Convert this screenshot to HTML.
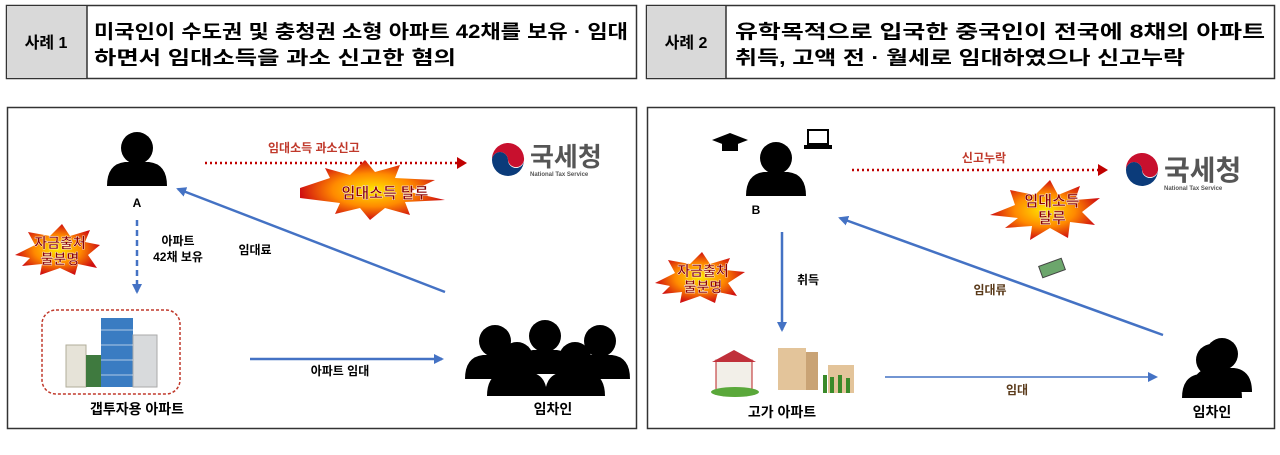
<!DOCTYPE html>
<html><head><meta charset="utf-8"><style>
html,body{margin:0;padding:0;background:#fff;}
svg{display:block}
text{font-family:"Liberation Sans","Noto Sans CJK KR",sans-serif;font-weight:bold}
</style></head><body>
<svg width="1280" height="455" viewBox="0 0 1280 455" xmlns="http://www.w3.org/2000/svg">
<defs>
<marker id="ab" markerWidth="10" markerHeight="10" refX="8" refY="5" orient="auto" markerUnits="userSpaceOnUse"><path d="M0,0 L10,5 L0,10 z" fill="#4472c4"/></marker>
<marker id="ar" markerWidth="10" markerHeight="12" refX="8" refY="6" orient="auto" markerUnits="userSpaceOnUse"><path d="M0,0 L10,6 L0,12 z" fill="#c00000"/></marker>
<radialGradient id="burst" cx="50%" cy="50%" r="50%"><stop offset="0" stop-color="#ffe600"/><stop offset="0.55" stop-color="#ff8a00"/><stop offset="1" stop-color="#d01010"/></radialGradient>
<g id="person"><circle cx="0" cy="-14" r="16" fill="#000"/><path d="M-30,24 Q-30,2 -12,0 L12,0 Q30,2 30,24 Z" fill="#000"/></g>
<g id="nts"><path d="M0,-16 A16,16 0 1,0 16,0 A8,8 0 0,1 0,0 A8,8 0 0,0 -16,0 A16,16 0 0,1 0,-16z" fill="#0b3b7a"/><path d="M-16,0 A16,16 0 0,1 16,-2 A8,8 0 0,1 0,0 A8,8 0 0,0 -16,0z" fill="#c8102e"/></g>
</defs>

<!-- headers -->
<rect x="6.5" y="5.5" width="630" height="73" fill="#fff" stroke="#333" stroke-width="1.5"/>
<rect x="7" y="6" width="80" height="72" fill="#d9d9d9"/>
<line x1="87" y1="5" x2="87" y2="79" stroke="#333" stroke-width="1.5"/>
<text x="46" y="48" font-size="16" text-anchor="middle">사례 1</text>
<text x="94" y="38" font-size="19" textLength="534" lengthAdjust="spacingAndGlyphs">미국인이 수도권 및 충청권 소형 아파트 42채를 보유 · 임대</text>
<text x="94" y="64" font-size="19" textLength="362" lengthAdjust="spacingAndGlyphs">하면서 임대소득을 과소 신고한 혐의</text>

<rect x="646.5" y="5.5" width="628" height="73" fill="#fff" stroke="#333" stroke-width="1.5"/>
<rect x="647" y="6" width="79" height="72" fill="#d9d9d9"/>
<line x1="726" y1="5" x2="726" y2="79" stroke="#333" stroke-width="1.5"/>
<text x="686" y="48" font-size="16" text-anchor="middle">사례 2</text>
<text x="735" y="38" font-size="19" textLength="530" lengthAdjust="spacingAndGlyphs">유학목적으로  입국한  중국인이  전국에  8채의  아파트</text>
<text x="735" y="64" font-size="19" textLength="450" lengthAdjust="spacingAndGlyphs">취득, 고액 전 · 월세로 임대하였으나 신고누락</text>

<!-- panels -->
<rect x="7.5" y="107.5" width="629" height="321" fill="#fff" stroke="#333" stroke-width="1.5"/>
<rect x="647.5" y="107.5" width="627" height="321" fill="#fff" stroke="#333" stroke-width="1.5"/>

<!-- LEFT -->
<use href="#person" x="137" y="162"/>
<text x="137" y="207" font-size="12" text-anchor="middle">A</text>
<line x1="205" y1="163" x2="465" y2="163" stroke="#c00000" stroke-width="2.5" stroke-dasharray="2,3" marker-end="url(#ar)"/>
<text x="268" y="152" font-size="12" fill="#c0392b">임대소득 과소신고</text>
<use href="#nts" x="508" y="160"/>
<text x="530" y="166" font-size="26" fill="#555" font-weight="normal">국세청</text>
<text x="530" y="176" font-size="6" fill="#555">National Tax Service</text>
<polygon points="300,188 330,178 325,168 350,175 365,160 375,172 400,165 395,178 435,180 410,192 445,200 405,202 410,215 385,208 370,220 360,208 335,214 340,203 300,198" fill="url(#burst)"/>
<text x="385" y="198" font-size="15" text-anchor="middle" fill="#8b0000" stroke="#fff" stroke-width="0.4">임대소득 탈루</text>
<line x1="445" y1="292" x2="178" y2="189" stroke="#4472c4" stroke-width="2.5" marker-end="url(#ab)"/>
<text x="255" y="254" font-size="12" text-anchor="middle">임대료</text>
<line x1="137" y1="220" x2="137" y2="292" stroke="#4472c4" stroke-width="2.5" stroke-dasharray="6,4" marker-end="url(#ab)"/>
<text x="178" y="245" font-size="12" text-anchor="middle">아파트</text>
<text x="178" y="261" font-size="12" text-anchor="middle">42채 보유</text>
<polygon points="15,255 35,245 28,232 50,236 62,224 70,236 90,230 85,242 100,245 88,255 97,268 78,264 75,275 60,268 40,275 42,264 22,266 30,258" fill="url(#burst)"/>
<text x="60" y="248" font-size="14" text-anchor="middle" fill="#8b0000" stroke="#fff" stroke-width="0.4">자금출처</text>
<text x="60" y="264" font-size="14" text-anchor="middle" fill="#8b0000" stroke="#fff" stroke-width="0.4">불분명</text>
<rect x="42" y="310" width="138" height="84" rx="14" fill="none" stroke="#c0392b" stroke-width="1.5" stroke-dasharray="3,2"/>
<rect x="66" y="345" width="20" height="42" fill="#e6e3d8" stroke="#b0ad9a"/>
<rect x="86" y="355" width="15" height="32" fill="#3f7a3f"/>
<rect x="101" y="318" width="32" height="69" fill="#3a7cc2"/>
<rect x="133" y="335" width="24" height="52" fill="#d8dadc" stroke="#aaa"/>
<g stroke="#fff" stroke-width="1" opacity="0.6"><line x1="101" y1="330" x2="133" y2="330"/><line x1="101" y1="345" x2="133" y2="345"/><line x1="101" y1="360" x2="133" y2="360"/><line x1="101" y1="375" x2="133" y2="375"/></g>
<text x="137" y="414" font-size="14" text-anchor="middle">갭투자용 아파트</text>
<line x1="250" y1="359" x2="442" y2="359" stroke="#4472c4" stroke-width="2.5" marker-end="url(#ab)"/>
<text x="340" y="375" font-size="12" text-anchor="middle">아파트 임대</text>
<use href="#person" x="495" y="355"/>
<use href="#person" x="545" y="350"/>
<use href="#person" x="600" y="355"/>
<use href="#person" x="517" y="372"/>
<use href="#person" x="575" y="372"/>
<text x="553" y="414" font-size="14" text-anchor="middle">임차인</text>

<!-- RIGHT -->
<use href="#person" x="776" y="172"/>
<path d="M712,140 L730,133 L748,140 L730,147 Z" fill="#000"/><rect x="722" y="143" width="16" height="8" fill="#000"/>
<rect x="808" y="130" width="20" height="14" fill="none" stroke="#000" stroke-width="2"/><rect x="804" y="145" width="28" height="4" fill="#000"/>
<text x="756" y="214" font-size="12" text-anchor="middle">B</text>
<line x1="852" y1="170" x2="1106" y2="170" stroke="#c00000" stroke-width="2.5" stroke-dasharray="2,3" marker-end="url(#ar)"/>
<text x="984" y="162" font-size="12" fill="#c0392b" text-anchor="middle">신고누락</text>
<use href="#nts" x="1142" y="170"/>
<text x="1164" y="180" font-size="28" fill="#555" font-weight="normal">국세청</text>
<text x="1164" y="190" font-size="6" fill="#555">National Tax Service</text>
<polygon points="990,215 1015,205 1010,190 1035,195 1050,180 1058,195 1080,186 1075,200 1100,198 1082,212 1095,225 1070,222 1068,238 1050,228 1030,240 1032,226 1005,228 1018,218" fill="url(#burst)"/>
<text x="1052" y="206" font-size="15" text-anchor="middle" fill="#8b0000" stroke="#fff" stroke-width="0.4">임대소득</text>
<text x="1052" y="223" font-size="15" text-anchor="middle" fill="#8b0000" stroke="#fff" stroke-width="0.4">탈루</text>
<line x1="1163" y1="335" x2="840" y2="218" stroke="#4472c4" stroke-width="2.5" marker-end="url(#ab)"/>
<rect x="1040" y="262" width="24" height="12" fill="#6ca66c" stroke="#444" transform="rotate(-20 1052 268)"/>
<text x="990" y="294" font-size="12" text-anchor="middle" fill="#5a3a1a">임대류</text>
<line x1="782" y1="232" x2="782" y2="330" stroke="#4472c4" stroke-width="2.5" marker-end="url(#ab)"/>
<text x="808" y="284" font-size="12" text-anchor="middle">취득</text>
<polygon points="655,283 675,273 668,260 690,264 702,252 710,264 730,258 725,270 745,272 728,283 737,296 718,292 715,303 700,296 680,303 682,292 662,294 670,286" fill="url(#burst)"/>
<text x="703" y="276" font-size="14" text-anchor="middle" fill="#8b0000" stroke="#fff" stroke-width="0.4">자금출처</text>
<text x="703" y="292" font-size="14" text-anchor="middle" fill="#8b0000" stroke="#fff" stroke-width="0.4">불분명</text>
<rect x="716" y="360" width="36" height="30" fill="#f2efe8" stroke="#b22"/><path d="M712,362 L734,350 L756,362 Z" fill="#c0303a"/>
<ellipse cx="735" cy="392" rx="24" ry="5" fill="#5aa83a"/>
<rect x="778" y="348" width="28" height="42" fill="#e3c49a"/><rect x="806" y="352" width="12" height="38" fill="#c9a375"/>
<rect x="828" y="365" width="26" height="28" fill="#e3c49a"/>
<rect x="823" y="375" width="4" height="18" fill="#3a8a2a"/><rect x="830" y="377" width="4" height="16" fill="#3a8a2a"/><rect x="838" y="375" width="4" height="18" fill="#3a8a2a"/><rect x="846" y="378" width="4" height="15" fill="#3a8a2a"/>
<text x="782" y="417" font-size="14" text-anchor="middle">고가 아파트</text>
<line x1="885" y1="377" x2="1156" y2="377" stroke="#4472c4" stroke-width="1.5" marker-end="url(#ab)"/>
<text x="1017" y="394" font-size="12" text-anchor="middle" fill="#5a3a1a">임대</text>
<use href="#person" x="1222" y="368"/>
<use href="#person" x="1212" y="374"/>
<text x="1212" y="417" font-size="14" text-anchor="middle">임차인</text>
</svg>
</body></html>
